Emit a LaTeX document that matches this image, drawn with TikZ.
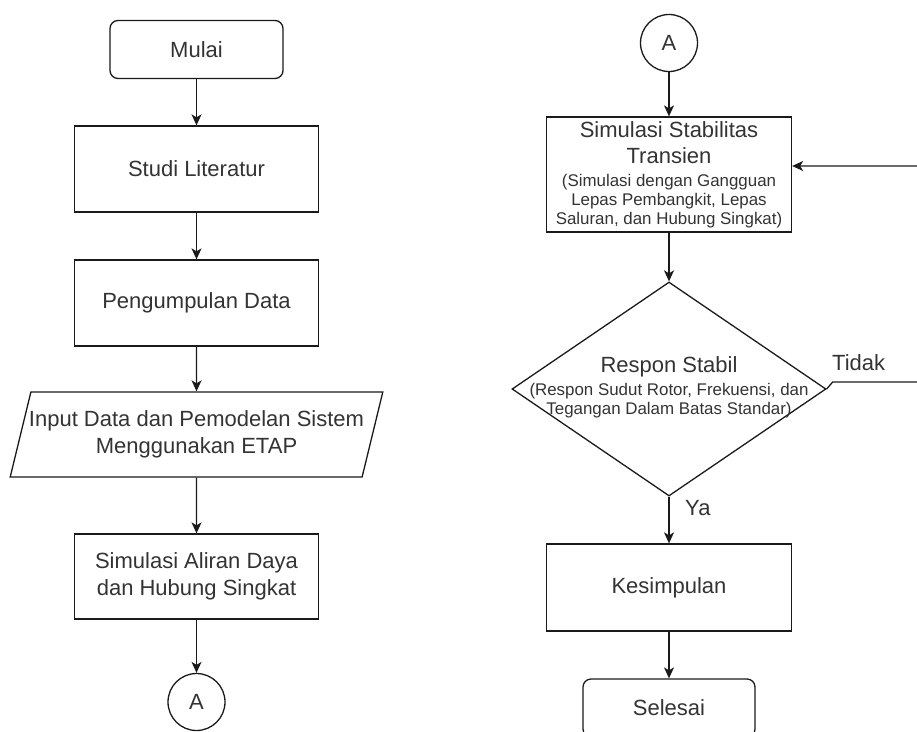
\documentclass[tikz,border=0pt]{standalone}
\usepackage{fontspec}
\setmainfont{Liberation Sans}
\usepackage{tikz}
\usetikzlibrary{
    arrows.meta,
    positioning,
    calc,
    shapes.geometric
}
\definecolor{txtgray}{HTML}{333333}
\definecolor{edgegray}{HTML}{1A1A1A}
\newcommand{\bigtxt}{\fontsize{22}{27}\selectfont}
\newcommand{\smalltxt}{\fontsize{16.9}{19}\selectfont}
\tikzset{
  procbox/.style  = {draw=edgegray, line width=1.3pt, minimum width=244pt,
                     minimum height=86pt, align=center, text=txtgray,
                     font=\bigtxt, inner sep=0pt},
  termbox/.style  = {draw=edgegray, line width=1.3pt, rounded corners=8pt,
                     minimum width=173pt, minimum height=58pt,
                     text=txtgray, font=\bigtxt, inner sep=0pt},
  conbox/.style   = {draw=edgegray, line width=1.3pt, circle,
                     minimum size=57pt, text=txtgray, font=\bigtxt,
                     inner sep=0pt},
  arr/.style      = {-{Stealth[length=11pt, width=10pt, inset=3pt]},
                     line width=1.3pt, edgegray}
}

\begin{document}
\begin{tikzpicture}[
    x=1pt, y=-1pt,
    iobox/.style={draw=edgegray, line width=1.3pt, trapezium,
                  trapezium left angle=70.5, trapezium right angle=109.5,
                  trapezium stretches=true, minimum width=374pt,
                  minimum height=85pt, inner xsep=-14pt, align=center,
                  text=txtgray, font=\bigtxt},
    decbox/.style={draw=edgegray, line width=1.3pt, diamond,
                   minimum width=314pt, minimum height=214pt, inner sep=0pt},
    lbl/.style={text=txtgray, font=\bigtxt, inner sep=0pt}
  ]
    \useasboundingbox (0,0) rectangle (917,731);
    % left column
    \node[termbox](mulai)  at (196.5,49.5) {Mulai};
    \node[procbox](studi)  at (196.5,169)  {Studi Literatur};
    \node[procbox](data)   at (196.5,303)  {Pengumpulan Data};
    \node[iobox](input)    at (196.5,434.5){Input Data dan Pemodelan Sistem\\Menggunakan ETAP};
    \node[procbox, minimum height=85pt](aliran) at (196.5,576.5)
         {Simulasi Aliran Daya\\dan Hubung Singkat};
    \node[conbox](ca1)     at (196.5,702)  {A};
    \draw[arr](mulai)--(studi); \draw[arr](studi)--(data);
    \draw[arr](data)--(input);  \draw[arr](input)--(aliran);
    \draw[arr](aliran)--(ca1);
    % right column
    \node[conbox](ca2)     at (669,43)    {A};
    \node[procbox, font=\smalltxt, minimum width=245pt, minimum height=115pt](stab)
         at (669,174.5)
         {\bigtxt Simulasi Stabilitas\\[7pt]
          \bigtxt Transien\\[4pt]
          (Simulasi dengan Gangguan\\
          Lepas Pembangkit, Lepas\\
          Saluran, dan Hubung Singkat)};
    \node[decbox](resp)    at (669,389)   {};
    \node[lbl, font=\smalltxt, align=center](resptxt) at (669,387)
         {\bigtxt Respon Stabil\\[4pt]
          (Respon Sudut Rotor, Frekuensi, dan\\
          Tegangan Dalam Batas Standar)};
    \node[procbox, minimum width=245pt, minimum height=87pt](kes) at (669,587.5)
         {Kesimpulan};
    \node[termbox, minimum width=172pt](sel) at (669,708) {Selesai};
    \draw[arr](ca2)--(stab); \draw[arr](stab)--(resp);
    \draw[arr](resp)--(kes);  \draw[arr](kes)--(sel);
    \node[lbl, anchor=west](ya)    at (685,508) {Ya};
    \node[lbl, anchor=west](tidak) at (832,363) {Tidak};
    % back loop, off the right edge
    \coordinate (lp1) at (925,382);
    \coordinate (lp2) at (925,166);
    \draw[arr](resp.east) -- ++(6,-7) -- (lp1) -- (lp2) -- (stab.east |- lp2);
  \end{tikzpicture}
\end{document}
